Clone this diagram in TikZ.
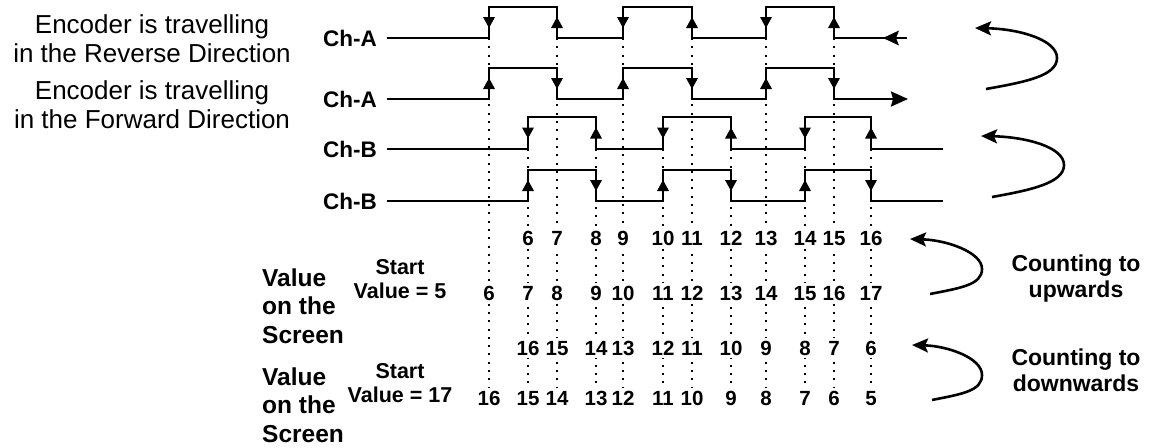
\documentclass[tikz,border=0pt]{standalone}
\usepackage{fontspec}
\setmainfont{Liberation Sans}
\usetikzlibrary{arrows.meta,backgrounds}
\newcommand\edgeup[2]{\fill (#1,#2-5.5) -- (#1+6,#2+5.5) -- (#1-6,#2+5.5) -- cycle;}
\newcommand\edgedown[2]{\fill (#1,#2+5.5) -- (#1+6,#2-5.5) -- (#1-6,#2-5.5) -- cycle;}
\begin{document}
\begin{tikzpicture}[x=1pt,y=-1pt,
  sig/.style={line width=2.5pt, line join=miter},
  dots/.style={line width=2pt, dash pattern=on 2pt off 6.3pt},
  curv/.style={line width=2.6pt,-{Stealth[length=16pt,width=14pt,inset=3pt]}},
  enc/.style={font=\fontsize{26}{28.5}\selectfont, align=center, inner sep=0pt, anchor=base},
  chlab/.style={font=\bfseries\fontsize{22.5}{24}\selectfont, inner sep=0pt, anchor=east},
  vallab/.style={font=\bfseries\fontsize{24.5}{28.5}\selectfont, align=left, inner sep=0pt, anchor=base west},
  startlab/.style={font=\bfseries\fontsize{21.5}{24}\selectfont, align=center, inner sep=0pt, anchor=base},
  cntlab/.style={font=\bfseries\fontsize{23}{25.5}\selectfont, align=center, inner sep=0pt, anchor=base},
  num/.style={font=\bfseries\fontsize{20.5}{22}\selectfont, fill=white, inner sep=3pt, anchor=base}]
\useasboundingbox (0,0) rectangle (1158,447);

% left texts (anchor = baseline of last line)
\node[enc] (rev) at (152,62) {Encoder is travelling\\in the Reverse Direction};
\node[enc] (fwd) at (152,128) {Encoder is travelling\\in the Forward Direction};
\node[chlab] (ch1) at (377,38) {Ch-A};
\node[chlab] (ch2) at (377,99) {Ch-A};
\node[chlab] (ch3) at (377,149) {Ch-B};
\node[chlab] (ch4) at (377,201) {Ch-B};

\node[vallab] (val1) at (262,343) {Value\\on the\\Screen};
\node[vallab] (val2) at (262,442) {Value\\on the\\Screen};
\node[startlab] (st1) at (400,298) {Start\\Value = 5};
\node[startlab] (st2) at (400,402) {Start\\Value = 17};
\node[cntlab] (up) at (1076,297) {Counting to\\upwards};
\node[cntlab] (down) at (1076,391) {Counting to\\downwards};

% numbers
\foreach \x [count=\i] in {489,528,557,596,623,663,692,731,766,805,834,871}{
  \ifnum\i>1
    \pgfmathtruncatemacro\va{\i+4}
    \node[num] (a\i) at (\x,245) {\va};
    \pgfmathtruncatemacro\vc{18-\i}
    \node[num] (c\i) at (\x,355) {\vc};
  \fi
  \pgfmathtruncatemacro\vb{\i+5}
  \node[num] (b\i) at (\x,300) {\vb};
  \pgfmathtruncatemacro\vd{17-\i}
  \node[num] (d\i) at (\x,405) {\vd};
}

% dotted guide lines
\begin{scope}[on background layer]
\foreach \x [count=\i] in {489,528,557,596,623,663,692,731,766,805,834,871}{
  \ifodd\i
    \coordinate (t\i) at (\x,38);
  \else
    \coordinate (t\i) at (\x,149);
  \fi
  \draw[dots] (t\i) -- (d\i.north);
}
\end{scope}

% signals
\draw[sig] ([xshift=10pt]ch1.east) -- (489,38) -- (489,7) -- (557,7) -- (557,38) -- (623,38) -- (623,7) -- (692,7) -- (692,38) -- (766,38) -- (766,7) -- (834,7) -- (834,38) -- (907,38);
\fill (883,38) -- (899,30.5) -- (896,38) -- (899,45.5) -- cycle;
\draw[sig,-{Stealth[length=17pt,width=15pt,inset=2pt]}] ([xshift=10pt]ch2.east) -- (489,99) -- (489,68) -- (557,68) -- (557,99) -- (623,99) -- (623,68) -- (692,68) -- (692,99) -- (766,99) -- (766,68) -- (834,68) -- (834,99) -- (908,99);
\draw[sig] ([xshift=10pt]ch3.east) -- (528,149) -- (528,117) -- (596,117) -- (596,149) -- (663,149) -- (663,117) -- (731,117) -- (731,149) -- (805,149) -- (805,117) -- (871,117) -- (871,149) -- (943,149);
\draw[sig] ([xshift=10pt]ch4.east) -- (528,201) -- (528,170) -- (596,170) -- (596,201) -- (663,201) -- (663,170) -- (731,170) -- (731,201) -- (805,201) -- (805,170) -- (871,170) -- (871,201) -- (943,201);

% edge direction marks
\foreach \x in {489,623,766}{\edgedown{\x}{22.5}\edgeup{\x}{83.5}}
\foreach \x in {557,692,834}{\edgeup{\x}{22.5}\edgedown{\x}{83.5}}
\foreach \x in {528,663,805}{\edgedown{\x}{133}\edgeup{\x}{185.5}}
\foreach \x in {596,731,871}{\edgeup{\x}{133}\edgedown{\x}{185.5}}

% curved arrows
\coordinate (s1) at (986,89);   \coordinate (e1) at (975,28);
\coordinate (s2) at (992,197);  \coordinate (e2) at (981,136);
\coordinate (s3) at (930,294);  \coordinate (e3) at (910,239);
\coordinate (s4) at (932,400);  \coordinate (e4) at (912,345);
\draw[curv] (s1) .. controls (1025,82) and (1057,76) .. (1057,58) .. controls (1057,40) and (1020,29) .. (e1);
\draw[curv] (s2) .. controls (1031,190) and (1064,183) .. (1064,165) .. controls (1064,147) and (1026,137) .. (e2);
\draw[curv] (s3) .. controls (960,288) and (982,285) .. (982,269) .. controls (982,252) and (946,240) .. (e3);
\draw[curv] (s4) .. controls (962,394) and (982,391) .. (982,375) .. controls (982,358) and (948,346) .. (e4);
\end{tikzpicture}
\end{document}
